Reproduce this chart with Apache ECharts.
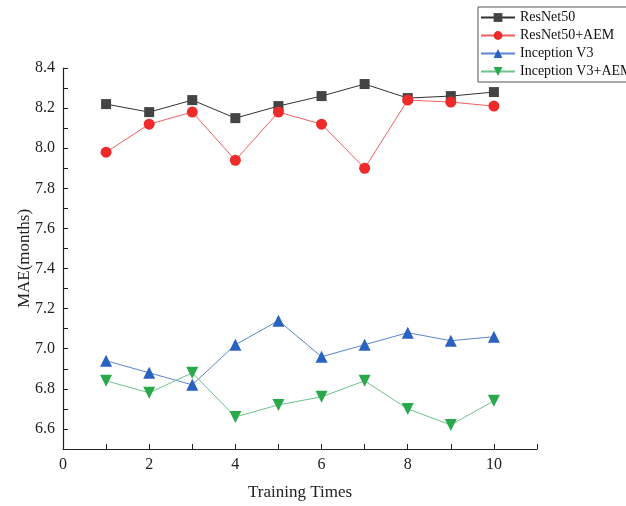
<!DOCTYPE html>
<html>
<head>
<meta charset="utf-8">
<script src="https://cdn.jsdelivr.net/npm/echarts@6/dist/echarts.min.js"></script>
<style>
  html, body { margin: 0; padding: 0; background: #fff; }
  #main { width: 626px; height: 506px; }
</style>
</head>
<body>
<div id="main"></div>
<script>
// training runs 1..10
var trainingTimes = [1, 2, 3, 4, 5, 6, 7, 8, 9, 10];
var resnet50 = [8.22, 8.18, 8.24, 8.15, 8.21, 8.26, 8.32, 8.25, 8.26, 8.28];
var resnet50Aem = [7.98, 8.12, 8.18, 7.94, 8.18, 8.12, 7.90, 8.24, 8.23, 8.21];
var inceptionV3 = [6.94, 6.88, 6.82, 7.02, 7.14, 6.96, 7.02, 7.08, 7.04, 7.06];
var inceptionV3Aem = [6.84, 6.78, 6.88, 6.66, 6.72, 6.76, 6.84, 6.70, 6.62, 6.74];

var serif = '"Liberation Serif", "DejaVu Serif", serif';

function pairs(ys) {
    var out = [];
    for (var i = 0; i < trainingTimes.length; i++) {
        out.push([trainingTimes[i], ys[i]]);
    }
    return out;
}

function makeSeries(name, ys, symbol, size, lineColor, markColor) {
    return {
        name: name,
        type: 'line',
        data: pairs(ys),
        symbol: symbol,
        symbolSize: size,
        lineStyle: {color: lineColor, width: 1},
        itemStyle: {color: markColor},
        emphasis: {disabled: true},
        z: 3
    };
}

var chart = echarts.init(document.getElementById('main'));
chart.setOption({
    animation: false,
    backgroundColor: '#fff',
    grid: {left: 63, right: 89, top: 68, bottom: 56},
    legend: {
        orient: 'vertical',
        left: 478,
        top: 7,
        padding: [3, 6, 3, 2],
        itemGap: 3,
        itemWidth: 34,
        itemHeight: 11,
        borderColor: '#555',
        borderWidth: 1,
        textStyle: {fontFamily: serif, fontSize: 14, color: '#111', lineHeight: 15},
        data: ['ResNet50', 'ResNet50+AEM', 'Inception V3', 'Inception V3+AEM']
    },
    xAxis: {
        type: 'value',
        min: 0,
        max: 11,
        interval: 1,
        name: 'Training Times',
        nameLocation: 'middle',
        nameGap: 35,
        nameTextStyle: {fontFamily: serif, fontSize: 17, color: '#222'},
        splitLine: {show: false},
        axisLine: {lineStyle: {color: '#222', width: 1.2}},
        axisTick: {inside: true, length: 5, lineStyle: {color: '#222'}},
        axisLabel: {
            fontFamily: serif, fontSize: 16, color: '#222', margin: 8,
            formatter: function (v) { return v % 2 === 0 && v <= 10 ? String(v) : ''; }
        }
    },
    yAxis: {
        type: 'value',
        min: 6.5,
        max: 8.4,
        interval: 0.1,
        name: 'MAE(months)',
        nameLocation: 'middle',
        nameGap: 30,
        nameMoveOverlap: false,
        nameTextStyle: {fontFamily: serif, fontSize: 17, color: '#222'},
        splitLine: {show: false},
        axisLine: {show: true, lineStyle: {color: '#222', width: 1.2}},
        axisTick: {inside: true, length: 5, lineStyle: {color: '#222'}},
        axisLabel: {
            fontFamily: serif, fontSize: 16, color: '#222', margin: 8,
            formatter: function (v) {
                var k = Math.round(v * 10);
                return k % 2 === 0 ? v.toFixed(1) : '';
            }
        }
    },
    series: [
        makeSeries('ResNet50', resnet50, 'rect', 10, '#333', '#444'),
        makeSeries('ResNet50+AEM', resnet50Aem, 'circle', 11, '#f06060', '#ee2a2a'),
        makeSeries('Inception V3', inceptionV3, 'triangle', 12, '#5a86cf', '#2a62c0'),
        makeSeries('Inception V3+AEM', inceptionV3Aem, 'path://M0,0 L10,0 L5,9 Z', 12, '#6ec48a', '#29a84c')
    ]
});
</script>
</body>
</html>
